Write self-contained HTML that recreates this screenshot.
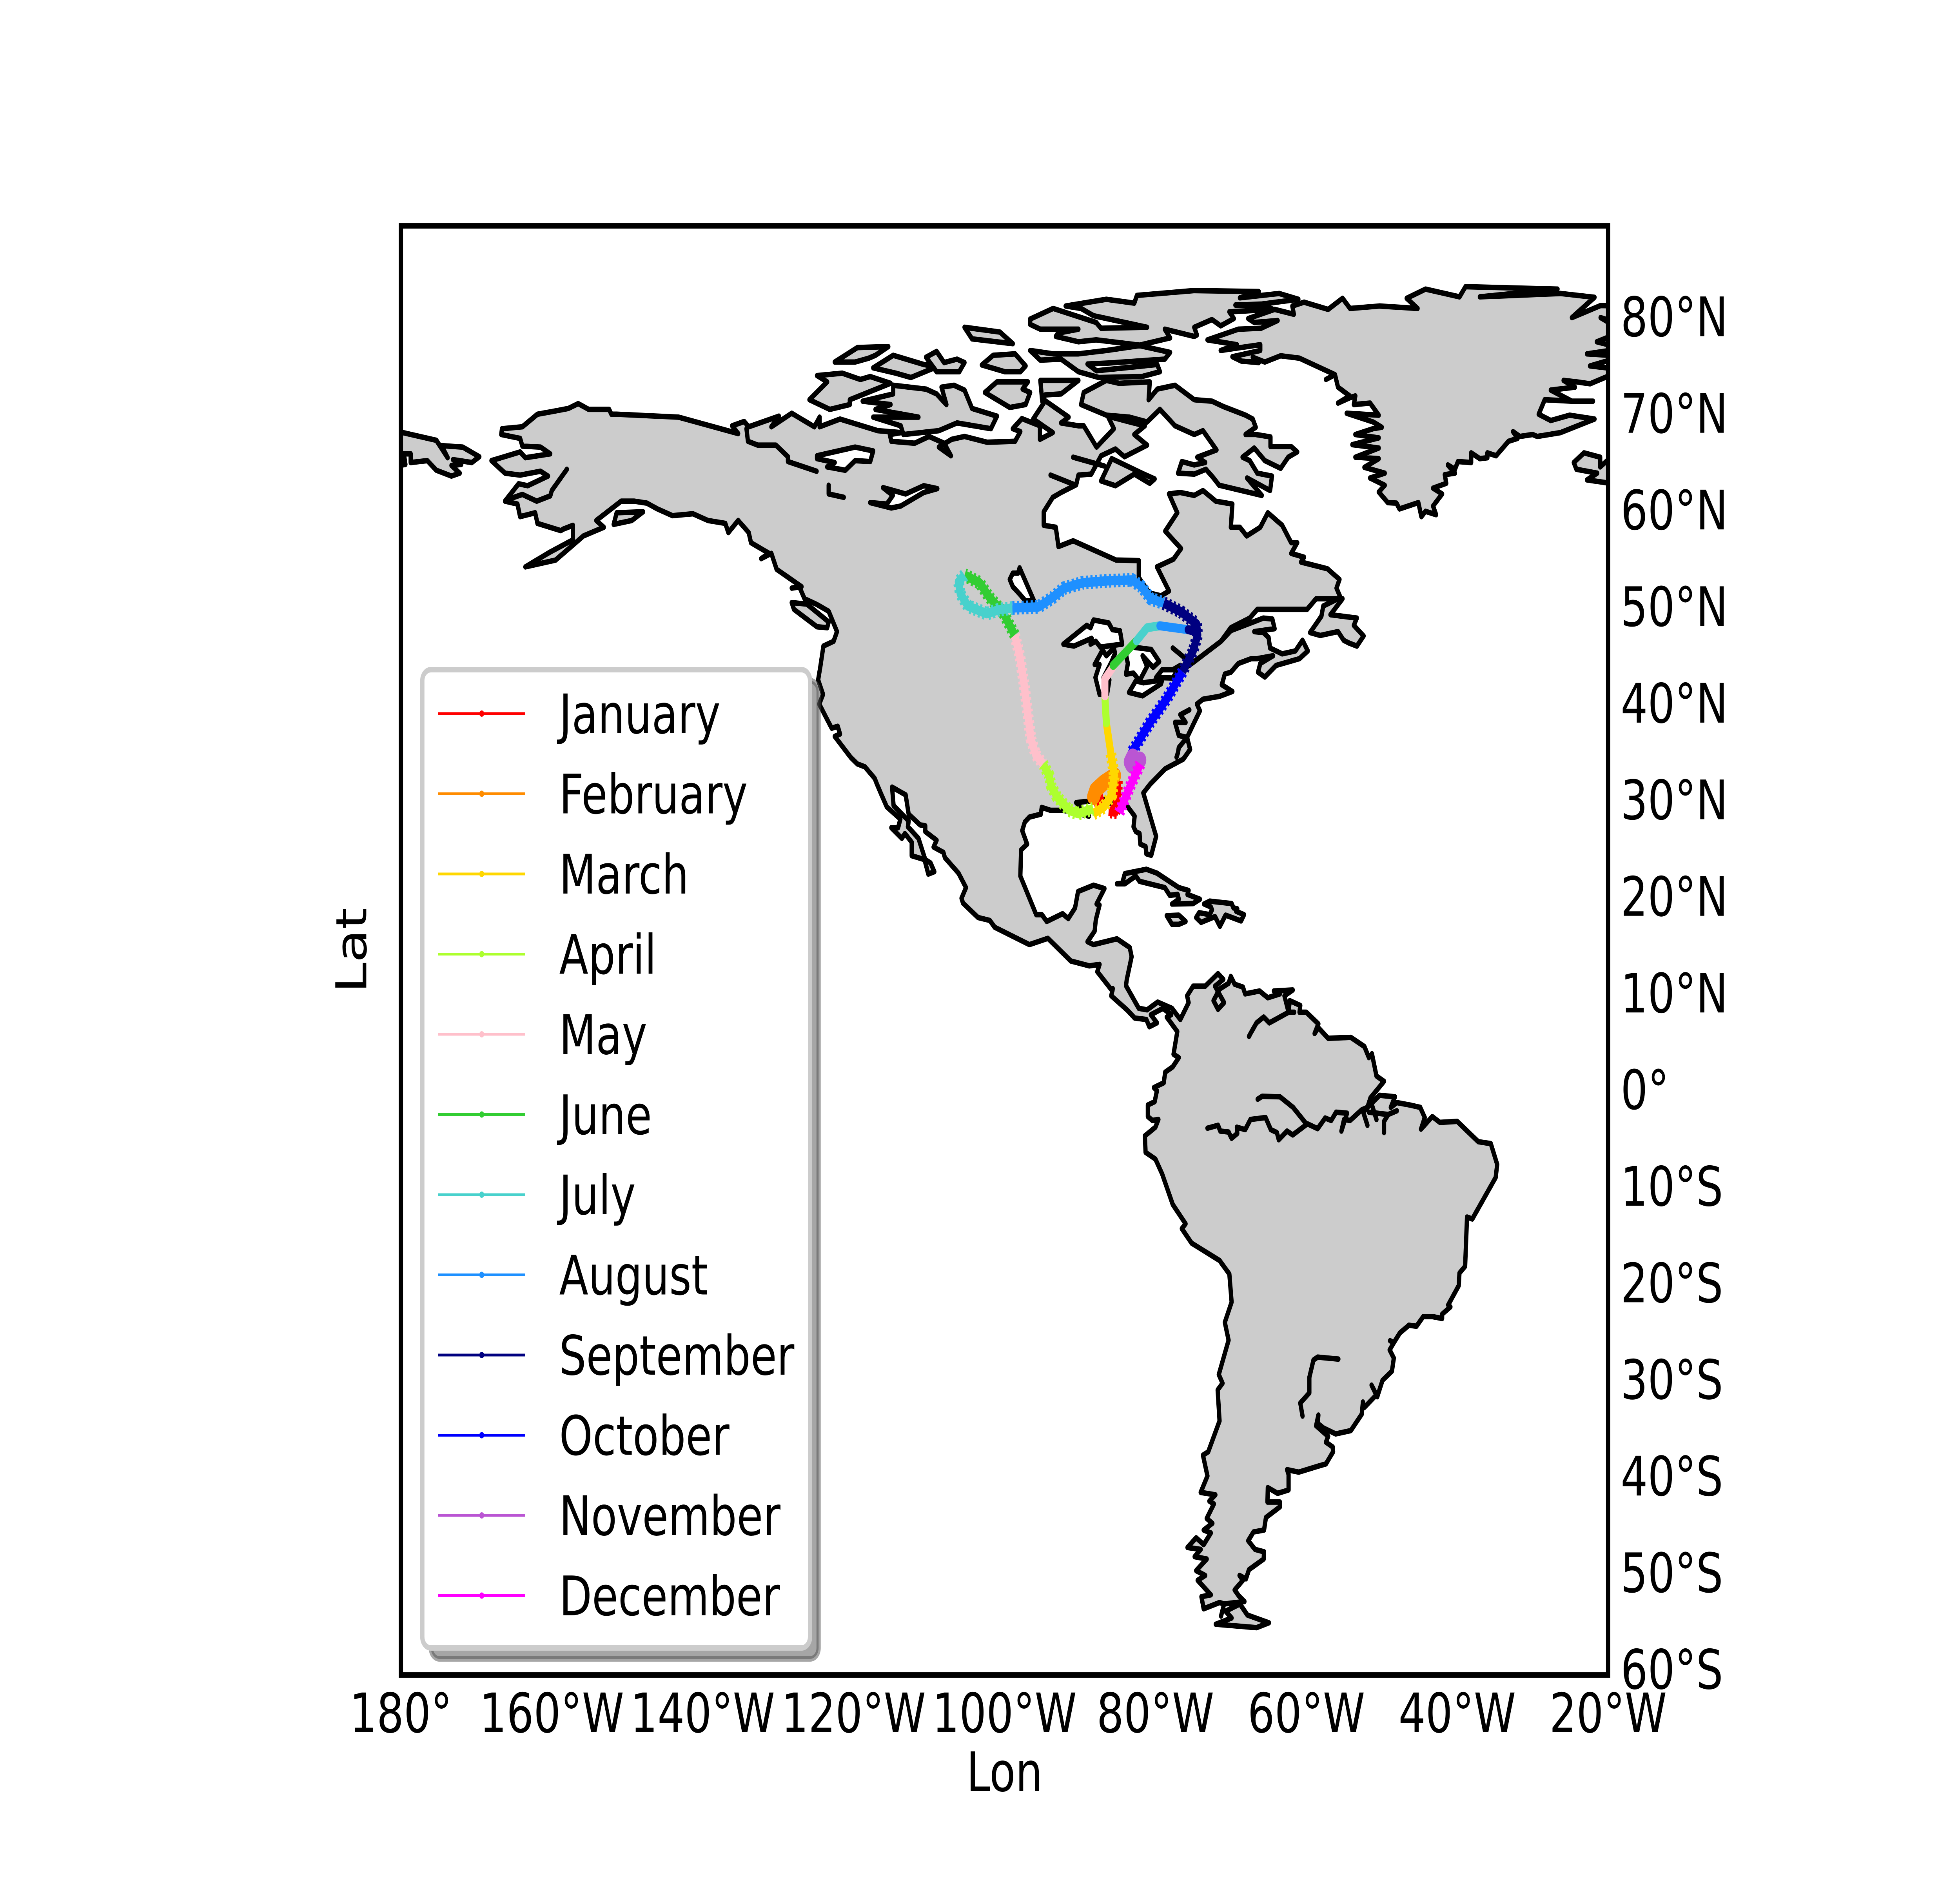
<!DOCTYPE html>
<html>
<head>
<meta charset="utf-8">
<title>Monthly track map</title>
<style>
html,body{margin:0;padding:0;background:#fff;width:100%;height:100%;overflow:hidden;}
svg{display:block;width:100vw;height:100vh;}
text{font-family:"DejaVu Sans","Liberation Sans",sans-serif;font-size:138.9px;fill:#000;}
</style>
</head>
<body>
<svg id="chart" xmlns="http://www.w3.org/2000/svg" viewBox="0 0 6400 4800" preserveAspectRatio="none">
<rect x="0" y="0" width="6400" height="4800" fill="#ffffff"/>
<defs><clipPath id="axes-clip"><rect x="1309" y="576" width="3942" height="3696"/></clipPath></defs>
<g id="land-layer" clip-path="url(#axes-clip)"></g>
<g id="track-layer" clip-path="url(#axes-clip)"></g>
<rect x="1309" y="576" width="3942" height="3696" fill="none" stroke="#000" stroke-width="13.9"/>
<g id="tick-layer"></g>
<text x="3280" y="4568" text-anchor="middle">Lon</text>
<text x="1196" y="2424" text-anchor="middle" transform="rotate(-90 1196 2424)">Lat</text>
<g id="legend-layer">
<rect x="1407" y="1736" width="1266" height="2495" rx="28" ry="28" fill="#4d4d4d" fill-opacity="0.5" stroke="#4d4d4d" stroke-opacity="0.5" stroke-width="13.9"/>
<rect x="1379" y="1708" width="1266" height="2495" rx="28" ry="28" fill="#ffffff" stroke="#cccccc" stroke-width="13.9"/>
</g>
</svg>
<script>
const monthNames = ["January","February","March","April","May","June","July","August","September","October","November","December"];
const monthColors = ["#ff0000","#ff8c00","#ffd700","#adff2f","#ffc0cb","#32cd32","#48d1cc","#1e90ff","#000080","#0000ff","#ba55d3","#ff00ff"];
const lonTicks = [-180,-160,-140,-120,-100,-80,-60,-40,-20];
const lonLabels = ["180°","160°W","140°W","120°W","100°W","80°W","60°W","40°W","20°W"];
const latTicks = [80,70,60,50,40,30,20,10,0,-10,-20,-30,-40,-50,-60];
const latLabels = ["80°N","70°N","60°N","50°N","40°N","30°N","20°N","10°N","0°","10°S","20°S","30°S","40°S","50°S","60°S"];

/* Track: each month holds [style, [lon,lat]...] segments; "w" = rough western leg, "e" = smooth eastern leg, "f" and "n" = dense clusters */
const trackJanuary = [
 ["w",[-85.05,32.55],[-85.1,30.05],[-85.45,29.1]],
 ["w",[-85.1,29.3],[-86.2,29.4]],
 ["w",[-86.85,30.8],[-88.2,30.25]]
];
const trackFebruary = [
 ["e",[-85.9,35.2],[-85.4,33.3]],
 ["f",[-85.4,33.1],[-86.85,32.35],[-87.9,31.6],[-88.2,30.9]]
];
const trackMarch = [
 ["e",[-86.5,38.55],[-85.9,35.35]],
 ["w",[-85.9,35.35],[-85.45,33.15],[-85.75,31.1],[-86.85,29.85],[-88.25,29.15]]
];
const trackApril = [
 ["e",[-86.7,41.35],[-86.5,38.55]],
 ["w",[-94.9,34.3],[-94.1,33.15],[-93.8,32.0],[-93.05,30.9],[-91.5,29.55],[-90.25,29.15],[-89.15,29.45],[-88.25,29.65]]
];
const trackMay = [
 ["e",[-85.6,44.35],[-86.7,43.1],[-86.7,41.35]],
 ["w",[-98.65,47.65],[-98,45.6],[-97.4,42.5],[-96.9,39.4],[-96.5,36.9],[-95.85,35.25],[-94.9,34.3]]
];
const trackJune = [
 ["e",[-85.6,44.5],[-82.5,47.05]],
 ["w",[-98.65,47.65],[-100.2,50],[-102.05,51.6],[-103.3,53.05],[-105.3,53.85]]
];
const trackJuly = [
 ["e",[-82.5,47.05],[-81.1,48.4],[-79.4,48.6]],
 ["w",[-105.3,53.85],[-106.1,53.15],[-105.85,51.9],[-104.85,50.65],[-102.35,49.85],[-100.8,50.25],[-98.95,50.45]]
];
const trackAugust = [
 ["e",[-79.4,48.6],[-75.65,48.2]],
 ["w",[-98.95,50.45],[-95.5,50.55],[-93.65,51.5],[-92.1,52.5],[-89.65,53.05],[-86.5,53.25],[-83.1,53.35],[-81.85,52.65],[-80.6,51.4],[-78.9,50.95]]
];
const trackSeptember = [
 ["e",[-75.65,48.2],[-74.55,48]],
 ["w",[-78.9,50.95],[-76.6,50.05],[-74.55,48.8],[-74.4,47.65],[-75,46],[-76.4,43.85]]
];
const trackOctober = [
 ["w",[-76.4,43.85],[-78.45,41.1],[-80.75,38.55],[-83.25,35.35]]
];
const trackNovember = [
 ["n",[-83.0,35.0],[-83.3,34.5],[-83.1,34.2]],
 ["n",[-83.1,34.6],[-82.1,34.7]]
];
const trackDecember = [
 ["w",[-82,34.3],[-83.4,31.9],[-84.8,29.25]]
];
const monthTracks = [trackJanuary,trackFebruary,trackMarch,trackApril,trackMay,trackJune,trackJuly,trackAugust,trackSeptember,trackOctober,trackNovember,trackDecember];

/* Coastlines in lon/lat */
const coastAmericas = [
[-166.6,69],[-163.9,69.2],[-161.9,70.5],[-159.8,70.8],[-157.8,71.1],[-156.5,71.6],[-155.1,71],[-152.4,71],[-152.1,70.5],[-151.4,70.5],[-143.2,70.2],[-135.3,68.5],[-136.1,69.3],[-134.5,69.75],[-133.9,69.2],[-129.9,70.3],[-130.9,69.2],[-128.2,70.6],[-125.2,69.2],[-124.5,70.2],[-124.5,69.2],[-121.8,70],[-116.8,68.8],[-113.7,68.6],[-115.2,68.4],[-115,67.7],[-111.9,67.5],[-110,68.2],[-108,67.5],[-107.1,66.2],[-108.7,67.1],[-107,67.9],[-105.3,68.2],[-102.3,67.6],[-98.6,67.7],[-97.9,68.7],[-98.9,69],[-97.7,70.05],[-95.3,69.3],[-95.3,67.9],[-93.6,68.6],[-96.2,70],[-94.6,71.9],[-91.5,70.2],[-92.5,69.6],[-90.2,69.3],[-89.5,69.3],[-87.8,67.1],[-85.5,69],[-86.3,70.3],[-83.4,69.7],[-81.4,69.3],[-82.8,68.4],[-81.1,67.3],[-84.1,66.1],[-85.3,66.9],[-87.2,66.2],[-88.5,64.3],[-90.2,64.2],[-90.5,63.2],[-92.5,62.4],[-93.6,61.9],[-94.8,60.4],[-94.8,59],[-93.2,58.8],[-92.85,56.8],[-90.9,57.4],[-85.2,55.4],[-82.2,55.35],[-82.2,53.6],[-80.8,52],[-79.25,51.7],[-78.2,52.2],[-79.8,54.7],[-77.6,55.5],[-76.6,56.6],[-78.7,58.4],[-77.1,60.3],[-78.2,62.25],[-76.7,62.4],[-74.85,62.1],[-73.7,62.6],[-72,61.5],[-69.8,61.2],[-70,58.8],[-68.8,58.8],[-67.9,57.9],[-66.1,58.8],[-65.1,60.3],[-63.2,59],[-62,57.2],[-61.2,57.2],[-62,56.1],[-60.3,55.7],[-60.7,55.2],[-57.2,54.5],[-55.6,53.4],[-56,52.5],[-55.4,51.4],[-58.7,51.4],[-59.9,50.3],[-66.5,50.3],[-67.5,49.4],[-70,48.4],[-71.3,47],[-75,44.8],[-76.3,44.1],[-75,44.8],[-71.3,47],[-70,48.1],[-67,49],[-65.7,49.4],[-64.5,49.3],[-64.2,48.3],[-66.9,48],[-65.7,47.9],[-65,47.4],[-64.8,46.3],[-63.2,45.7],[-61.45,46],[-60.5,47.1],[-59.8,46],[-60.9,45.2],[-64,44.5],[-65.5,43.3],[-66.4,43.8],[-66.1,44.7],[-64.4,45.5],[-66.5,45.2],[-67.3,45.2],[-69,44.7],[-70,43.8],[-70.8,43.6],[-71.2,42.5],[-69.8,41.8],[-71.5,41.3],[-73.7,41],[-74.5,40.5],[-74.1,39.8],[-74.85,38.6],[-75.8,37.05],[-75.4,35.8],[-76.3,34.8],[-78.7,33.8],[-80.7,32.2],[-81.6,31.3],[-79.9,26.8],[-80.55,24.85],[-81.2,25],[-81.3,25.75],[-82,26],[-82.1,27.1],[-82.6,27.3],[-82.9,27.8],[-82.75,28.9],[-83.9,30.1],[-85.2,29.9],[-86.8,30.6],[-88.8,30.45],[-90.5,30.3],[-88.8,28.9],[-92.2,29.5],[-93.9,29.5],[-95.06,29.8],[-95.2,29.1],[-96.7,28.8],[-97.3,28.3],[-97.65,27.4],[-97,26],[-97.8,25.4],[-97.9,22.7],[-95.8,18.7],[-95.05,18.7],[-94.4,18],[-92.3,18.8],[-91.55,18.3],[-90.65,19.4],[-90.25,21.1],[-88.2,21.75],[-86.75,21.4],[-87.8,19.8],[-87.4,19.7],[-87.9,18.15],[-88.05,17],[-89,15.9],[-88.2,15.6],[-85.1,16.2],[-83.4,15.3],[-83.15,14.35],[-83.8,11.95],[-83.9,11.35],[-82.2,9],[-81.1,8.85],[-79.7,9.65],[-77.8,9],[-76.7,7.85],[-75.6,9.6],[-75.8,10.3],[-75,11.3],[-74.2,11.3],[-73.4,11.3],[-71.7,12.6],[-71,12],[-72.1,11.3],[-70.9,9.6],[-71.7,8.9],[-72.3,9.8],[-71.5,11],[-70.3,11.6],[-70,12.3],[-69.5,11.5],[-68.4,11.2],[-68.1,10.5],[-66.2,10.8],[-65.1,10.1],[-63.5,10.5],[-64.3,10.8],[-61.8,10.9],[-62.9,10.3],[-62.35,8.6],[-62.2,9.8],[-60.8,9.3],[-60.9,8.6],[-60,8.6],[-58.4,7.4],[-58.9,6.4],[-58.4,7],[-57.1,5.9],[-54.1,6],[-52.3,5.05],[-51.7,3.9],[-51.3,4.3],[-50.7,2],[-49.7,1.45],[-51.5,-0.27],[-51.9,-1.25],[-50.3,0],[-48.25,-0.15],[-48.8,-1.25],[-48,-0.75],[-46.3,-1],[-44.9,-1.25],[-44.3,-2.3],[-44.8,-3.5],[-43.3,-2.2],[-42.3,-2.8],[-40,-2.7],[-37.2,-4.8],[-35.55,-5],[-34.7,-7.15],[-34.9,-8.5],[-38,-12.8],[-38.7,-12.6],[-38.95,-17.7],[-39.7,-18.4],[-39.8,-19.7],[-41.2,-21.7],[-40.9,-21.9],[-42,-22.65],[-42,-23.1],[-43.3,-22.9],[-44.5,-22.9],[-45.4,-23.9],[-46.4,-23.8],[-47.6,-24.6],[-48.4,-25.6],[-48.9,-25.4],[-48.4,-25.6],[-48.95,-26.35],[-48.4,-27.2],[-48.65,-28.55],[-49.9,-29.5],[-50.6,-31.2],[-51.35,-30],[-50.7,-31],[-52.3,-32.3],[-52.5,-31.75],[-52.65,-33],[-54.1,-34.7],[-56.1,-35.05],[-57.7,-34.45],[-58.5,-33.95],[-58.4,-33.1],[-58.7,-34.2],[-57.1,-35.3],[-57.4,-35.9],[-56.5,-36.4],[-56.45,-36.9],[-57.4,-38.15],[-58.5,-38.4],[-61,-39],[-62.55,-38.75],[-62.35,-39.25],[-62.35,-40.85],[-63.8,-41.2],[-65.1,-40.6],[-65.15,-42.1],[-63.5,-42.1],[-63.5,-42.6],[-65.35,-43.7],[-65.6,-45],[-67,-45.2],[-67.7,-46.1],[-66.8,-47],[-65.6,-47.25],[-65.65,-48],[-67.6,-49.1],[-68,-50.05],[-68.85,-49.7],[-68.4,-50.2],[-69.5,-51.2],[-68.95,-51.8],[-68.2,-52.4],[-70.9,-52.65],[-71.3,-53.9],[-70.9,-52.65],[-71.5,-52.5],[-73.6,-53.15],[-73.9,-51.9],[-72.65,-51.7],[-74.4,-50.2],[-73.4,-49.7],[-74.6,-49.2],[-73.2,-48],[-74.8,-47.75],[-74,-47],[-75.75,-46.8],[-74.6,-45.8],[-73.6,-46.5],[-72.65,-45.3],[-73.6,-45],[-72.45,-44.3],[-73.2,-43.8],[-72.25,-42.3],[-72.85,-42],[-72.05,-41.35],[-74,-41.1],[-73.1,-39.4],[-73.7,-37.25],[-73,-36.9],[-71.5,-33.7],[-71.75,-30.5],[-71.1,-29.8],[-71.6,-28.9],[-70.3,-25.35],[-70.8,-23.5],[-69.9,-21.4],[-70.2,-18.5],[-71.5,-17.1],[-75.2,-15.3],[-76.5,-13.8],[-76,-13.3],[-77.7,-11.3],[-79.1,-8.15],[-80,-6.6],[-81.3,-5.9],[-81.4,-4.2],[-80,-3.3],[-79.6,-2.5],[-80.4,-2.6],[-81,-2.2],[-81,-1],[-80.1,-0.66],[-79.8,0.47],[-80.2,0.8],[-78.9,1.3],[-78.7,2.4],[-77.7,2.95],[-76.9,3.9],[-77.6,4.25],[-77.1,6.6],[-78.5,8.1],[-77.9,8.35],[-79,9],[-80.6,8.35],[-79.8,7.5],[-80.8,7.1],[-81.2,7.85],[-82.75,8],[-83.7,8.8],[-85.85,10.3],[-85.65,11.05],[-85.7,10.8],[-87.7,12.8],[-87.4,13.55],[-88.75,13.4],[-91.2,13.9],[-94.25,16.25],[-96.7,15.6],[-101.3,17.4],[-101.95,18.1],[-103.5,18.4],[-105.5,19.9],[-105.7,20.4],[-105.1,21.5],[-106.1,23],[-107.9,24.6],[-108.1,25.15],[-109.4,25.7],[-109,26.4],[-110.5,27.3],[-110.5,27.9],[-111.2,28],[-112.7,29.1],[-113.1,31.1],[-114.9,31.9],[-114.7,30],[-112.7,28.4],[-112.8,27.8],[-111.4,26.6],[-110.5,24.4],[-109.8,24.05],[-109.3,23.15],[-110.1,22.9],[-110.6,24.4],[-112.3,24.8],[-112.3,26.2],[-113.2,27.1],[-113.6,26.6],[-115,27.7],[-114.1,27.7],[-113.8,28.6],[-115.6,29.85],[-116.3,31.1],[-116.9,32.2],[-117.2,32.8],[-118.5,34],[-119.5,34.3],[-120.4,35],[-122.5,37.15],[-121.8,37.4],[-122.1,38.2],[-122.9,38],[-123.7,39.2],[-124.55,40.5],[-124.05,41.5],[-124.7,43],[-124.4,44.4],[-124,46.5],[-122.65,47],[-122.2,48],[-123.3,50.1],[-124.85,50.8],[-126.5,51.4],[-127.2,52.65],[-128.2,52.5],[-126.9,52.65],[-128.55,53.55],[-130.2,54.45],[-130.9,56.1],[-132.25,55.55],[-131.2,56.1],[-133.6,57.2],[-133.9,58.25],[-135.3,59.5],[-136.6,58.25],[-137,59.2],[-139.3,59.5],[-141.3,60.2],[-144,60],[-146,60.7],[-147.4,61.3],[-149.1,61.5],[-150.8,61.5],[-154.1,59.5],[-153.1,58.8],[-155.8,57.9],[-159.5,55.4],[-163.5,54.7],[-160.3,56.2],[-157.2,57.5],[-157.2,59],[-158.5,58.6],[-158.8,58.45],[-161.9,59.2],[-162.2,60.3],[-164.2,59.9],[-164.55,61.2],[-166.2,61.5],[-164.4,63.3],[-163.2,63.1],[-160.5,64.1],[-161.5,64.6],[-164.2,64.2],[-166.2,64.4],[-168,65.7],[-164.2,66.6],[-163.5,66],[-160.2,66.4],[-161.5,67.1],[-163.9,67.2],[-164.2,68],[-166.7,68.4]
];
const coastChukotka = [[-182,69],[-175.3,67.8],[-173.8,66],[-174.6,67.25],[-171.8,67.1],[-169.6,66.1],[-170.6,65.5],[-173.1,65.8],[-172,65.3],[-173.3,65.2],[-172.2,64.4],[-173.3,64.1],[-175.3,64.7],[-176.5,65.7],[-178.7,65.5],[-178.7,66.4],[-179.6,66.4],[-179.4,65.3],[-182,65]];
const coastGreenland = [[-38.9,83.7],[-26.7,83.45],[-37,82.65],[-26.3,83],[-21.8,82.6],[-24.8,80.5],[-21,81.75],[-18,81.7],[-19,80],[-21,80.5],[-18,79.1],[-21.5,78],[-18,77.3],[-22.8,76.75],[-18,76.5],[-22.4,75.5],[-18,75.1],[-22.4,73.65],[-24.2,73.85],[-25.9,74],[-24.4,73.3],[-27.6,73],[-24.8,71.85],[-22,71.85],[-24.8,71.85],[-28.4,72],[-29.2,70.5],[-27.6,69.85],[-25.1,70.4],[-21.8,70],[-26.3,68.6],[-29.4,68.2],[-30,68.4],[-31.7,68.2],[-32.6,68.7],[-32,68],[-33.2,67.7],[-34.85,66.2],[-36,66.5],[-36,66],[-37,65.9],[-38.15,66.5],[-38.15,65.5],[-39.9,65.6],[-40.3,64.8],[-41.25,65.25],[-40.3,64.4],[-41.65,64.25],[-41.45,63.35],[-43.2,62.85],[-42,62.25],[-43.2,61],[-42.8,60.1],[-44.2,60.45],[-44.75,59.9],[-45.15,61.35],[-47.65,60.7],[-48.05,61.3],[-49.2,61.35],[-50.4,62.45],[-49.6,63.15],[-51.55,63.9],[-49.6,64.4],[-52.3,65],[-50.4,65.9],[-53.5,66.05],[-50.4,67],[-53.9,67.35],[-50.4,68.05],[-53.5,68.4],[-51.15,69],[-50,69.15],[-51.15,69.7],[-54.65,70.6],[-50.4,70.4],[-51.55,71.65],[-53.7,71.5],[-53.5,72.4],[-54.25,72.2],[-55.8,71.65],[-54.25,72.4],[-55.8,73.3],[-56.2,74.6],[-57.4,74.1],[-56.2,74.6],[-60.9,76.3],[-63.4,76.55],[-65.5,75.9],[-67.1,76.4],[-66.3,75.85],[-68.6,76],[-69.8,76.45],[-66.1,77.1],[-66.1,77.7],[-71.35,77.1],[-69.2,77.7],[-73.1,78.2],[-69,79.3],[-66,79.4],[-63.8,80.2],[-66.9,80],[-67.7,80.4],[-64.2,81.35],[-61.65,80.85],[-61.85,81.7],[-60.3,82.1],[-57.1,81.35],[-55.2,82.5],[-54.2,81.45],[-50.3,81.7],[-45.25,81.45],[-46.7,82.5],[-44.2,83.45],[-39.7,82.65]];
const coastEllesmere = [[-96.6,80.35],[-93.55,81.45],[-87.85,80],[-87.2,79.4],[-81.1,79.5],[-88.2,80.7],[-89.85,81.45],[-91.9,81.7],[-86.5,82.4],[-82.8,82],[-82.45,82.8],[-74.85,83.3],[-66.3,83.2],[-68.8,82.55],[-63.6,83],[-61.05,82.4],[-65.9,81.9],[-69.4,81.8],[-65.7,81.8],[-64.4,81.35],[-70.2,81.1],[-69.6,80.4],[-71.35,79.65],[-72.5,80.3],[-74.85,79.5],[-74.5,78.7],[-74.85,78.55],[-78.75,79.3],[-78.05,78.4],[-82.1,77.65],[-87.85,78.2],[-90.2,78],[-93.2,78.55],[-92.9,78.9],[-90.2,79.3],[-95.25,79.3],[-96.6,79.8]];
const coastDevon = [[-96.6,77.1],[-93.55,76.75],[-90.2,76.75],[-86.5,77.1],[-82.1,77.6],[-78.05,76.9],[-78.75,76.2],[-86.2,75.8],[-89,75.7],[-87.8,75],[-79.75,75.65],[-79.4,74.9],[-81.8,74.4],[-87.5,74.3],[-90.2,74.9],[-92.5,76.2],[-95.25,76.1]];
const coastBaffin = [[-89.85,71.5],[-89.5,72.75],[-86.5,74],[-84.8,73.7],[-80.75,73.85],[-80.9,72],[-79.75,73.1],[-77.4,73.5],[-74.85,72],[-72.5,71.85],[-71,71.3],[-68.05,70.4],[-67.1,70],[-66.7,69.15],[-68.05,68.4],[-66.7,68.4],[-64.75,68.15],[-64.75,67.15],[-62,67.15],[-61.2,66.6],[-62.4,66.05],[-63.4,64.9],[-65.5,65.7],[-66.9,67],[-68.45,66.05],[-67.5,65.7],[-66.5,64.4],[-64.55,64.1],[-64.8,62.6],[-67.85,63.9],[-65.9,62.1],[-71.55,63.15],[-72.3,63.9],[-73.3,64.8],[-74.85,64.3],[-77,64.4],[-76.5,65.6],[-74.85,65.25],[-73.4,65.5],[-74.45,66.05],[-71.9,66.8],[-73.7,68.8],[-74.85,68.4],[-77.4,69.3],[-79.4,71],[-81.1,69.7],[-83.45,70.2],[-86.5,70.4]];
const coastBanks = [[-124.85,74.5],[-121.5,74.75],[-119.1,74.1],[-117.8,74.4],[-115.1,73.7],[-120.5,72],[-120.5,71.5],[-123.15,71],[-125.85,72],[-123.5,73.85]];
const coastVictoria = [[-118.8,71.85],[-114.75,72.6],[-114.75,73.5],[-110.4,73.1],[-109,72.6],[-107.7,71.5],[-108.35,73.3],[-106.7,73.5],[-105.3,73],[-104.3,71.1],[-101,70.3],[-101.8,69],[-106.3,69.6],[-108.7,68.8],[-113.4,68.4],[-113.75,69.3],[-117.4,70.2],[-111.4,70.2],[-117.1,71],[-115.1,71.5]];
const coastPrinceWales = [[-102.6,72.75],[-101,73.85],[-96.9,73.85],[-97.6,73.1],[-96.6,72.75],[-97.2,71.5],[-99.3,71.2]];
const coastSomerset = [[-95.25,74],[-90.2,74],[-92.5,72.6],[-94.6,72.5],[-95,71.85]];
const coastPrinceAlfred = [[-122.5,75.9],[-119.5,77.4],[-115.4,77.5],[-117.1,76.6],[-118,76.3],[-119.8,75.9]];
const coastMelville = [[-117.4,75.3],[-114.75,76.6],[-110.7,75.65],[-109,75.4],[-112.4,74.3],[-114.4,74.75]];
const coastBathurst = [[-110.4,76.4],[-109,77],[-108,75.85],[-106.3,76.2],[-105.3,75.85],[-106,74.9],[-109,74.9]];
const coastEllef = [[-105.3,79.5],[-100.6,79],[-98.9,77.8],[-104.3,78.3]];
const coastCornwall = [[-103,75.6],[-101.5,76.6],[-98.6,76.75],[-97.2,75.5],[-97.9,74.9],[-99.95,74.9]];
const coastSouthampton = [[-85.8,65.9],[-81.8,64.4],[-80.1,63.8],[-80.75,63.35],[-82.8,64.3],[-85.3,63.1],[-87.2,63.6]];
const coastNewfoundland = [[-59.5,47.9],[-58,49.6],[-57.75,50.65],[-55.8,51.4],[-55.2,51.4],[-56.8,49.75],[-53.3,49.4],[-53.7,48.65],[-52.4,47.55],[-53.3,46.5],[-54.3,46.8],[-55.05,47.1],[-55.8,48],[-58.15,47.6]];
const coastIceland = [[-24.55,65.5],[-23.2,66.5],[-21.05,66.05],[-21.05,65.05],[-19.7,66],[-19.7,63.35],[-22.8,63.7],[-21.45,64.4],[-24.2,64.8]];
const coastVancouver = [[-128.2,51],[-126.2,50.85],[-123.3,49],[-123.5,48.4],[-124.85,48.5],[-127.9,50.3]];
const coastKenai = [[-151.8,59.1],[-149.4,59.5],[-147.9,60.4],[-151.4,60.3]];
const coastCuba = [[-85.1,21.9],[-84.05,21.9],[-82.6,22.7],[-82.1,22.15],[-78.75,21.5],[-78.1,20.7],[-77.05,20.8],[-76.9,20.3],[-77.8,19.8],[-75,19.85],[-74.1,20.3],[-75.75,20.8],[-75.6,21.2],[-76.9,21.5],[-79.8,23],[-81.2,23.4],[-84.05,22.95],[-84.4,21.95]];
const coastJamaica = [[-78.5,18.6],[-76.9,18.65],[-76,18],[-76.9,17.7],[-77.8,17.7]];
const coastHispaniola = [[-73.55,19.8],[-72.8,20.1],[-69.9,19.85],[-69.65,19.4],[-69.15,19.3],[-69.3,19.05],[-68.25,18.7],[-68.65,18.05],[-70.7,18.65],[-71.45,17.5],[-72.1,18.5],[-73.95,17.9],[-74.6,18.4],[-74.2,18.9],[-72.8,18.7],[-72.5,19.2],[-72.65,19.5]];
const coastTierraFuego = [[-70.7,-53.4],[-68.8,-52.65],[-67.8,-53.8],[-64.95,-54.6],[-66.6,-55.1],[-72,-54.75],[-69.9,-54.1]];
const landIslands = [coastChukotka,coastGreenland,coastEllesmere,coastDevon,coastBaffin,coastBanks,coastVictoria,coastPrinceWales,coastSomerset,coastPrinceAlfred,coastMelville,coastBathurst,coastEllef,coastCornwall,coastSouthampton,coastNewfoundland,coastIceland,coastVancouver,coastKenai,coastCuba,coastJamaica,coastHispaniola,coastTierraFuego];

const lakeGreatBear = [[-124.85,66.2],[-119.8,67.1],[-117.4,66.7],[-117.8,65.6],[-119.8,65.7],[-121.1,64.7],[-123.5,65.05],[-122.5,65.5],[-124.85,65.9]];
const lakeGreatSlave = [[-117.8,61.35],[-115,60.8],[-113.75,61],[-110.7,62.4],[-108.9,62.8],[-110.7,63.1],[-113.1,62.25],[-116.1,62.9],[-114.8,62.1],[-115.6,61.2]];
const lakeWinnipeg = [[-99.3,53.4],[-98.9,54.05],[-98.2,54.05],[-98,54.6],[-96.1,51.2],[-97.25,51.2],[-97.9,51.8],[-98.9,52.65]];
const lakeSuperior = [[-92.2,46.7],[-89.1,48.65],[-88.6,48.4],[-88.2,49.2],[-86.2,48.9],[-85.7,48.2],[-84.7,48.1],[-84.4,46.7],[-87.3,46.4],[-87.9,47],[-88.6,46.7],[-88.45,47.3],[-90.8,46.5]];
const lakeMichigan = [[-87.4,41.5],[-87.95,43.25],[-87.4,44.6],[-88.05,44.6],[-87,46.1],[-86.5,45.5],[-85.5,46.3],[-85.35,45.75],[-85.85,44.8],[-86.9,43.2],[-86.1,43],[-86.4,41.55]];
const lakeHuron = [[-83.1,46.4],[-80.55,46.15],[-79.5,44.9],[-80.3,44.3],[-81.7,45.5],[-81.1,44.4],[-82.1,42.9],[-82.9,43.7],[-83.9,43.6],[-83.65,44.7],[-83.9,45.6]];
const lakeErie = [[-83.5,41.7],[-82.6,42.9],[-81.6,42.7],[-79.1,43],[-79.25,42.6],[-81.7,41.35]];
const lakeOntario = [[-79.9,43.25],[-79.1,44.05],[-77.7,44.05],[-76.7,44.5],[-77.7,43.2]];
const lakeList = [lakeGreatBear,lakeGreatSlave,lakeWinnipeg,lakeSuperior,lakeMichigan,lakeHuron,lakeErie,lakeOntario];

const lineAmazon = [[-73.1,-3.4],[-71.7,-3.1],[-71.4,-3.7],[-70.3,-3.8],[-69.9,-4.45],[-69.15,-3.95],[-69.2,-3.3],[-68.1,-3.55],[-67.4,-2.5],[-65.4,-2.3],[-64.7,-3.55],[-63.9,-3.85],[-63.65,-4.6],[-62.55,-3.7],[-61.8,-4.1],[-59.85,-2.95],[-58.5,-3.45],[-57.5,-2.35],[-56.7,-2.6],[-56.05,-1.75],[-54.6,-1.85],[-55.35,-3.7],[-55,-2.5],[-54.2,-2.6],[-52.65,-1.5],[-51.9,-1.25]];
const lineRioNegro = [[-66.45,-0.4],[-65.85,-0.1],[-63.5,-0.15],[-61.75,-1.25],[-60,-2.95]];
const lineXingu = [[-51.9,-1.25],[-52.45,-1.75],[-51.9,-3.1]];
const lineTocantins = [[-51.7,-1.75],[-49.15,-1.99],[-48,-1.6]];
const lineDeltaA = [[-51.3,-1],[-50.7,-2.5]];
const lineDeltaB = [[-49.15,-2],[-49.7,-2.7],[-49.7,-3.85]];
const lineOrinoco = [[-61.6,8.6],[-62.35,8.6],[-64.9,7.5],[-65.65,8.1],[-66.6,7.5],[-67.4,6.4],[-67.6,6.1]];
const lineParana = [[-55.75,-27.3],[-58.5,-27.1],[-59.05,-27.4],[-59.6,-29.2],[-59.6,-30.8],[-60.8,-31.85],[-60.5,-33.2]];
const lineMackenzie = [[-134.2,69],[-134,67.7],[-132.7,67.3],[-130.3,67.3],[-128.7,66.1],[-128.7,65.6],[-124.9,64.6]];
const lineYukon = [[-166.1,61.6],[-163.9,62.2],[-162,61.5],[-160.2,62.05],[-160,62.6],[-158,64.8]];
const lineAthabasca = [[-123.3,63.15],[-123.3,62.25],[-121.3,61.9]];
const lineNipissing = [[-77.7,46.3],[-76.15,45.3]];
const lineChesapeake = [[-75.5,39.9],[-76.7,39.4],[-76,38.6],[-77.4,38.6],[-76.9,37.25],[-75.8,37.05],[-76.9,36],[-77,35.5],[-77.2,35]];
const lineRoes = [[-90.9,66.05],[-86.8,65.15]];
const lineBaker = [[-93.9,64.2],[-90.7,63.2]];
const riverLines = [lineAmazon,lineRioNegro,lineXingu,lineTocantins,lineDeltaA,lineDeltaB,lineOrinoco,lineParana,lineMackenzie,lineYukon,lineAthabasca,lineNipissing,lineChesapeake,lineRoes,lineBaker];

const NS = "http://www.w3.org/2000/svg";
const AXIS_LEFT = 1309, AXIS_TOP = 576, AXIS_RIGHT = 5251, AXIS_BOTTOM = 4272;
const LON_MIN = -180, LON_MAX = -20, LAT_MIN = -60, LAT_MAX = 90;
function xScale(lon){ return AXIS_LEFT + (lon - LON_MIN) * (AXIS_RIGHT - AXIS_LEFT) / (LON_MAX - LON_MIN); }
function yScale(lat){ return AXIS_TOP + (LAT_MAX - lat) * (AXIS_BOTTOM - AXIS_TOP) / (LAT_MAX - LAT_MIN); }
function pathFrom(points, closed){
  let d = "";
  points.forEach(function(p, i){
    d += (i === 0 ? "M" : "L") + xScale(p[0]).toFixed(1) + " " + yScale(p[1]).toFixed(1);
  });
  return closed ? d + "Z" : d;
}
function makeShape(parent, d, fill, stroke, width, extra){
  const el = document.createElementNS(NS, "path");
  el.setAttribute("d", d);
  el.setAttribute("fill", fill);
  el.setAttribute("stroke", stroke);
  el.setAttribute("stroke-width", width);
  if (extra) { Object.keys(extra).forEach(function(k){ el.setAttribute(k, extra[k]); }); }
  parent.appendChild(el);
  return el;
}
const landLayer = document.getElementById("land-layer");
const roundStyle = {"stroke-linejoin":"round","stroke-linecap":"round"};

const mainland = makeShape(landLayer, pathFrom(coastAmericas, true), "#cccccc", "#000", 13.9, roundStyle);



landIslands.forEach(function(poly){
  const el = makeShape(landLayer, pathFrom(poly, true), "#cccccc", "#000", 13.9, roundStyle);
  
  
});
lakeList.forEach(function(poly){
  const el = makeShape(landLayer, pathFrom(poly, true), "#ffffff", "#000", 13.9, roundStyle);
  
  
});
riverLines.forEach(function(line){
  const el = makeShape(landLayer, pathFrom(line, false), "none", "#000", 13.9, roundStyle);
  
  
});

const trackLayer = document.getElementById("track-layer");
monthTracks.forEach(function(segments, m){
  const group = document.createElementNS(NS, "g");
  
  
  trackLayer.appendChild(group);
  segments.forEach(function(seg){
    const style = seg[0];
    const d = pathFrom(seg.slice(1), false);
    if (style === "e") {
      makeShape(group, d, "none", monthColors[m], 23, {"stroke-linejoin":"round","stroke-linecap":"round"});
    } else if (style === "f") {
      makeShape(group, d, "none", monthColors[m], 42, {"stroke-linejoin":"round","stroke-linecap":"round"});
    } else if (style === "n") {
      makeShape(group, d, "none", monthColors[m], 44, {"stroke-linejoin":"round","stroke-linecap":"round"});
    } else {
      makeShape(group, d, "none", monthColors[m], 24, {"stroke-linejoin":"round","stroke-linecap":"butt"});
      makeShape(group, d, "none", monthColors[m], 35, {"stroke-linejoin":"round","stroke-linecap":"butt","stroke-dasharray":"7 8"});
    }
  });
});

const tickLayer = document.getElementById("tick-layer");
lonTicks.forEach(function(lon, i){
  const t = document.createElementNS(NS, "text");
  t.setAttribute("x", xScale(lon));
  t.setAttribute("y", 4418);
  t.setAttribute("text-anchor", "middle");
  
  
  t.textContent = lonLabels[i];
  tickLayer.appendChild(t);
});
latTicks.forEach(function(lat, i){
  const t = document.createElementNS(NS, "text");
  t.setAttribute("x", 5292);
  t.setAttribute("y", yScale(lat) + 35);
  
  
  t.textContent = latLabels[i];
  tickLayer.appendChild(t);
});

const legendLayer = document.getElementById("legend-layer");
monthNames.forEach(function(name, i){
  const rowY = 1820 + 204.5 * i;
  const entry = document.createElementNS(NS, "g");
  
  
  legendLayer.appendChild(entry);
  const line = document.createElementNS(NS, "line");
  line.setAttribute("x1", 1431);
  line.setAttribute("x2", 1715);
  line.setAttribute("y1", rowY);
  line.setAttribute("y2", rowY);
  line.setAttribute("stroke", monthColors[i]);
  line.setAttribute("stroke-width", 6.9);
  
  
  entry.appendChild(line);
  const dot = document.createElementNS(NS, "circle");
  dot.setAttribute("cx", 1573);
  dot.setAttribute("cy", rowY);
  dot.setAttribute("r", 8);
  dot.setAttribute("fill", monthColors[i]);
  
  
  entry.appendChild(dot);
  const label = document.createElementNS(NS, "text");
  label.setAttribute("x", 1826);
  label.setAttribute("y", rowY + 50);
  
  
  label.textContent = name;
  entry.appendChild(label);
});
</script>
</body>
</html>
